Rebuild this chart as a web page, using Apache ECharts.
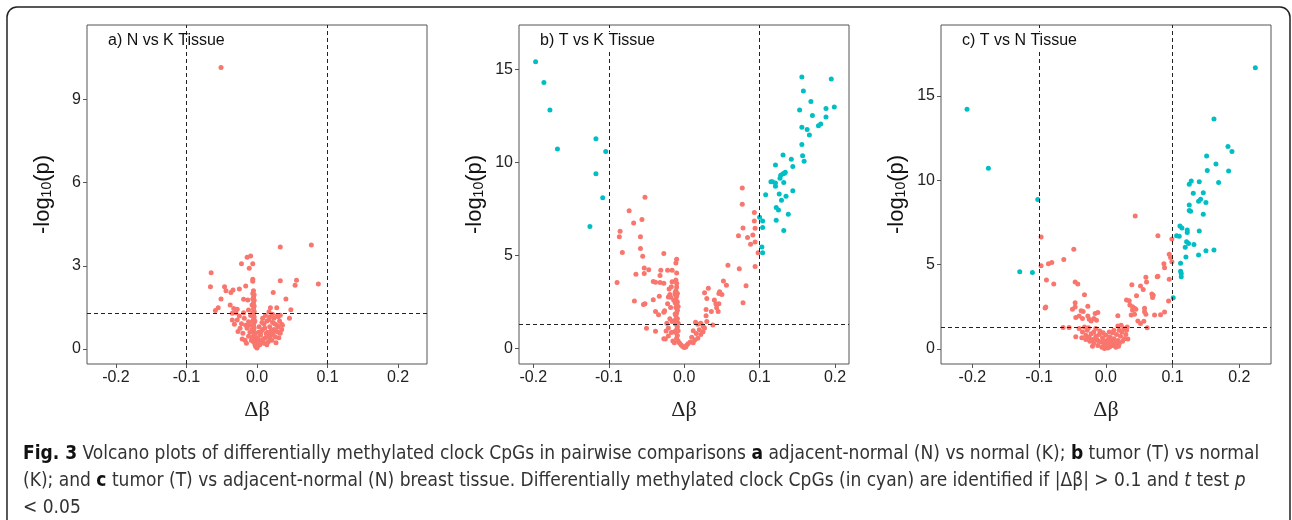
<!DOCTYPE html>
<html lang="en">
<head>
    <meta charset="UTF-8">
    <title>Volcano plots</title>
    <script src="https://cdn.jsdelivr.net/npm/echarts@6.0.0/dist/echarts.min.js"></script>
    <style>
        body { margin: 0; background: #fff; }
    </style>
</head>
<body>
    <div id="main" style="width: 1292px;height:520px;"></div>
    <script type="text/javascript">
        // panel labels and axis ticks
        const panelTitles = ['a) N vs K Tissue', 'b) T vs K Tissue', 'c) T vs N Tissue'];
        const xTicks = [-0.2, -0.1, 0, 0.1, 0.2];
        const aYTicks = [0, 3, 6, 9];
        const bYTicks = [0, 5, 10, 15];
        const cYTicks = [0, 5, 10, 15];
        const deltaCut = 0.1;
        const pCut = 1.3;

        // panel a: N vs K  [delta beta, -log10 p]
        const aRed = [
            [-0.051,10.16],
            [0.033,3.68],[0.077,3.75],[0.087,2.34],[0.056,2.48],[0.054,2.30],[0.033,2.46],[0.023,2.03],[0.041,1.80],[0.048,1.41],[0.046,1.10],
            [-0.065,2.75],[-0.066,2.24],[-0.051,1.80],[-0.055,1.48],[-0.059,1.38],[-0.046,2.24],[-0.044,2.10],[-0.034,2.12],[-0.037,2.03],[-0.025,2.16],[-0.016,2.27],
            [-0.022,3.07],[-0.014,3.31],[-0.009,3.35],[-0.011,2.91],[-0.006,3.07],[-0.006,2.51],[-0.006,2.44],
            [-0.038,1.58],[-0.033,1.46],[-0.028,1.43],[-0.019,1.79],[-0.013,1.76],[-0.012,1.40],[-0.006,2.0],[-0.007,1.58],
            [0.019,1.48],[0.028,1.48],[0.017,1.34],[0.033,1.21],[0.030,1.16],[0.035,0.89],
            [-0.035,1.28],[-0.035,1.04],[-0.028,1.04],[-0.032,0.89],[-0.024,0.74],[-0.027,0.62],[-0.020,0.56],[-0.021,0.35],[-0.017,0.31],[-0.012,0.98],[-0.014,0.74],
            [-0.030,1.30],[-0.025,1.18],[-0.018,1.10],[-0.016,0.85],[-0.022,0.90],[-0.010,0.60],[-0.012,0.45],[-0.008,0.30],[-0.015,0.20],[-0.019,1.30],[-0.009,1.20],[-0.010,0.85],
            [-0.005,2.10],[-0.004,1.95],[-0.005,1.85],[-0.004,1.75],[-0.005,1.65],[-0.004,1.55],[-0.005,1.45],[-0.004,1.35],[-0.005,1.25],[-0.004,1.15],[-0.005,1.05],
            [-0.004,0.95],[-0.005,0.85],[-0.004,0.75],[-0.005,0.65],[-0.004,0.55],[-0.005,0.45],[-0.004,0.35],[-0.005,0.25],[-0.003,0.15],[-0.002,0.08],[0.000,0.03],
            [-0.007,0.70],[-0.007,0.40],[-0.006,1.00],[-0.003,0.50],[-0.006,1.80],[-0.006,1.30],[-0.003,1.00],[-0.002,0.30],
            [0.005,0.50],[0.008,0.70],[0.010,0.90],[0.012,0.40],[0.015,0.60],[0.014,1.00],[0.018,0.80],[0.020,0.50],[0.022,0.95],[0.024,0.70],[0.026,0.43],[0.028,0.85],
            [0.030,0.60],[0.033,0.56],[0.035,0.70],[0.032,1.00],[0.021,0.31],[0.018,1.15],[0.012,1.20],[0.008,1.10],[0.006,0.30],[0.010,0.20],[0.004,0.15],[0.016,0.25],
            [0.020,0.65],[0.024,1.10],[0.027,0.22],[0.013,0.55],[0.029,1.20],[0.036,0.85],[0.003,0.80],[0.002,0.60],[0.001,0.40],[0.001,0.10],[-0.002,0.20],[0.003,0.25],
            [0.007,0.95],[0.011,0.75],[0.016,0.45],[0.019,0.35],[0.023,0.55],[0.025,0.90],[0.030,0.80],[0.009,0.35],[0.014,0.15],[0.006,0.62],[0.017,1.05],[0.022,1.25],
            [0.027,0.65],[0.031,0.40]
        ];
        const aCyan = [];

        // panel b: T vs K
        const bRed = [
            [0.077,8.63],[0.077,7.75],[0.072,6.06],[0.078,6.48],[0.093,7.31],[0.093,6.85],[0.094,6.47],[0.091,6.10],[0.084,5.97],[0.088,5.60],[0.094,5.73],[0.098,5.15],
            [0.094,4.41],[0.073,4.29],[0.058,4.47],[0.082,3.37],[0.078,2.45],[0.052,3.63],[0.056,3.40],[0.032,3.23],[0.027,3.00],[0.046,2.95],[0.050,2.90],[0.047,3.05],
            [0.030,2.68],[0.040,2.60],[0.042,2.40],[0.046,2.40],[0.043,2.18],[0.045,1.98],[0.036,1.98],[0.029,2.09],[0.029,1.76],[0.030,1.45],[0.038,1.26],[0.015,1.40],
            [0.018,1.30],[0.022,1.35],[0.025,1.20],[0.027,1.10],[0.020,1.00],[0.012,0.95],[0.016,0.80],[0.022,0.75],[0.010,0.60],[0.014,0.45],[0.018,0.55],[0.008,0.35],
            [0.005,0.25],[0.012,0.30],[0.003,0.15],[0.025,0.90],
            [-0.052,8.13],[-0.073,7.40],[-0.085,6.30],[-0.086,6.01],[-0.082,5.16],[-0.089,3.55],[-0.067,6.74],[-0.056,6.94],[-0.058,6.01],[-0.058,5.38],[-0.055,4.96],
            [-0.053,4.32],[-0.047,4.23],[-0.064,3.99],[-0.053,4.03],[-0.066,2.55],[-0.054,2.36],[-0.052,2.40],[-0.041,3.60],[-0.038,3.56],[-0.027,5.10],[-0.031,4.20],
            [-0.032,3.92],[-0.022,4.21],[-0.016,4.20],[-0.010,4.80],[-0.011,4.60],[-0.010,4.05],[-0.011,3.68],[-0.016,3.59],[-0.017,3.32],[-0.027,3.50],[-0.032,3.54],
            [-0.041,2.62],[-0.033,2.80],[-0.021,2.77],[-0.038,1.98],[-0.034,1.81],[-0.026,2.03],[-0.050,1.08],[-0.038,0.92],[-0.027,0.52],[-0.027,1.94],[-0.024,0.93],
            [-0.021,0.66],[-0.025,0.51],[-0.020,3.20],[-0.019,2.90],[-0.018,2.75],[-0.022,2.40],[-0.019,1.60],[-0.023,1.35],[-0.021,1.10],[-0.017,0.85],[-0.016,1.45],
            [-0.018,2.20],[-0.015,0.40],[-0.013,0.30],
            [-0.010,3.50],[-0.010,3.30],[-0.011,3.10],[-0.009,2.95],[-0.010,2.80],[-0.011,2.65],[-0.009,2.50],[-0.010,2.35],[-0.011,2.20],[-0.009,2.05],[-0.010,1.90],
            [-0.011,1.75],[-0.009,1.60],[-0.010,1.45],[-0.011,1.30],[-0.009,1.15],[-0.010,1.00],[-0.011,0.85],[-0.009,0.70],[-0.010,0.55],[-0.008,0.40],[-0.006,0.28],
            [-0.004,0.18],[-0.002,0.10],[0.000,0.05],[0.002,0.08],[-0.012,2.90],[-0.012,2.45],[-0.012,1.85],[-0.008,2.25],[-0.008,1.35],[-0.008,0.95],[-0.013,1.50],
            [-0.012,3.00],[-0.013,0.90],[-0.014,2.60]
        ];
        const bCyan = [
            [-0.197,15.42],[-0.186,14.30],[-0.178,12.82],[-0.168,10.73],[-0.117,11.28],[-0.104,10.59],[-0.117,9.40],[-0.108,8.11],[-0.125,6.56],
            [0.156,14.60],[0.195,14.49],[0.158,13.85],[0.168,13.28],[0.153,12.82],[0.199,12.99],[0.188,12.91],[0.170,12.53],[0.188,12.45],[0.156,11.90],[0.163,11.78],
            [0.181,12.07],[0.178,11.98],[0.166,11.48],[0.156,10.97],[0.157,10.37],[0.159,10.07],[0.131,10.40],[0.142,10.18],[0.144,9.78],[0.121,9.87],[0.128,9.32],
            [0.131,9.40],[0.133,9.43],[0.134,9.48],[0.127,9.16],[0.115,8.97],[0.117,8.97],[0.121,8.90],[0.121,8.72],[0.132,8.92],[0.144,8.48],[0.108,8.26],[0.126,8.31],
            [0.135,8.19],[0.129,7.97],[0.122,7.58],[0.125,7.44],[0.138,7.22],[0.122,6.90],[0.132,6.34],[0.100,7.05],[0.104,6.85],[0.104,6.50],[0.103,5.46],[0.104,5.15]
        ];

        // panel c: T vs N
        const cRed = [
            [0.044,7.88],[0.078,6.71],[0.099,6.51],[-0.097,6.63],[-0.048,5.90],[-0.063,5.30],[-0.097,4.93],[-0.086,5.05],[-0.081,5.12],[-0.089,4.08],[-0.078,3.84],
            [-0.046,3.96],[-0.042,3.84],[-0.032,3.20],[-0.091,2.42],[-0.090,2.48],[-0.046,2.73],[-0.050,2.34],[-0.046,2.48],[-0.037,2.25],[-0.034,2.22],[-0.027,2.53],
            [-0.045,1.85],[-0.040,1.95],[-0.035,1.80],[-0.027,1.94],[-0.016,2.10],[-0.012,2.15],[-0.018,1.80],[-0.014,1.70],[-0.022,1.65],[-0.025,1.75],[-0.064,1.27],
            [-0.055,1.27],[-0.045,0.71],
            [0.095,5.60],[0.087,5.05],[0.088,4.80],[0.097,5.42],[0.099,5.17],[0.077,4.27],[0.095,4.12],[0.060,4.24],[0.061,3.96],[0.039,3.80],[0.052,3.72],[0.078,4.31],
            [0.056,3.52],[0.046,3.15],[0.069,3.25],[0.071,3.18],[0.070,3.05],[0.031,2.90],[0.035,2.85],[0.094,2.83],[0.036,2.60],[0.040,2.50],[0.043,2.40],[0.045,2.35],
            [0.058,2.40],[0.058,2.20],[0.040,2.30],[0.043,2.05],[0.038,2.00],[0.060,2.05],[0.073,2.00],[0.082,2.02],[0.088,2.18],[0.018,1.96],[0.057,1.64],[0.062,1.25],
            [0.023,1.40],[0.027,1.20],[0.031,1.10],[0.032,1.30],[0.018,1.35],[0.020,1.10],[0.033,0.58],[0.030,0.85],[0.052,1.50],[0.048,1.65],
            [-0.040,1.20],[-0.035,1.00],[-0.030,0.80],[-0.032,1.30],[-0.028,1.10],[-0.025,0.70],[-0.022,0.90],[-0.020,0.55],[-0.018,1.00],[-0.015,0.75],[-0.012,0.50],
            [-0.010,0.85],[-0.008,0.40],[-0.005,0.65],[-0.003,0.30],[0.000,0.15],[0.002,0.50],[0.004,0.25],[0.006,0.70],[0.008,0.40],[0.010,0.20],[0.012,0.60],
            [0.014,0.35],[0.016,0.85],[0.018,0.50],[0.020,0.30],[0.022,0.75],[0.025,0.45],[0.028,0.60],[-0.006,0.10],[0.003,0.05],[-0.002,0.02],[0.006,0.12],
            [-0.012,0.20],[-0.018,0.35],[-0.024,0.45],[-0.030,0.55],[0.015,0.10],[-0.009,1.05],[0.010,0.95],[0.000,0.80],[-0.004,0.95],[0.005,1.00],[-0.015,1.20],
            [0.012,1.10],[-0.026,1.25],[0.024,1.00],[-0.036,0.65],[-0.002,0.45],[0.008,0.60],[-0.014,0.60],[0.019,0.15],[-0.020,0.15],[0.001,0.35],[0.004,0.55]
        ];
        const cCyan = [
            [-0.208,14.21],[-0.176,10.71],[-0.102,8.85],[-0.129,4.57],[-0.110,4.53],
            [0.224,16.66],[0.162,13.62],[0.183,11.99],[0.189,11.70],[0.151,11.44],[0.165,10.96],[0.152,10.57],[0.184,10.55],[0.169,9.86],[0.128,9.95],[0.125,9.76],
            [0.140,9.91],[0.131,9.22],[0.146,9.26],[0.142,8.87],[0.139,8.75],[0.150,8.67],[0.125,8.53],[0.125,8.20],[0.127,8.15],[0.146,7.98],[0.111,7.28],[0.114,7.16],
            [0.122,7.05],[0.122,6.90],[0.140,6.99],[0.106,6.70],[0.110,6.68],[0.121,6.35],[0.124,6.25],[0.132,6.19],[0.119,6.02],[0.150,5.82],[0.162,5.86],[0.139,5.56],
            [0.120,5.44],[0.112,5.07],[0.112,4.60],[0.113,4.47],[0.113,4.27],[0.101,3.03]
        ];

        const RED = '#F8766D';
        const CYAN = '#00BFC4';
        const FONT = '"Liberation Sans", Arial, sans-serif';

        // layout per panel
        const panels = [
            { grid: { left: 87, top: 25, width: 340, height: 339 }, x: [-0.241, 0.241], y: [-0.55, 11.7], yTicks: aYTicks, red: aRed, cyan: aCyan, titleBg: false },
            { grid: { left: 519, top: 25, width: 330, height: 339 }, x: [-0.219, 0.2185], y: [-0.84, 17.4], yTicks: bYTicks, red: bRed, cyan: bCyan, titleBg: true },
            { grid: { left: 941, top: 25, width: 330, height: 339 }, x: [-0.247, 0.2475], y: [-0.9, 19.2], yTicks: cYTicks, red: cRed, cyan: cCyan, titleBg: true }
        ];

        let myChart = echarts.init(document.getElementById('main'));

        const grids = [], xAxes = [], yAxes = [], series = [], graphics = [];
        panels.forEach((p, i) => {
            grids.push(Object.assign({ show: true, borderColor: '#555', borderWidth: 1, backgroundColor: 'transparent' }, p.grid));
            xAxes.push({
                type: 'value', gridIndex: i, min: p.x[0], max: p.x[1],
                axisLine: { show: false, onZero: false },
                axisTick: { show: true, length: 4, lineStyle: { color: '#555' }, customValues: xTicks },
                axisLabel: { color: '#222', fontSize: 16, fontFamily: FONT, margin: 6, customValues: xTicks, formatter: v => v.toFixed(1) },
                splitLine: { show: false },
                name: 'Δβ', nameLocation: 'middle', nameGap: 35,
                nameTextStyle: { fontSize: 22, fontFamily: '"Liberation Serif", "Times New Roman", serif', color: '#222' }
            });
            yAxes.push({
                type: 'value', gridIndex: i, min: p.y[0], max: p.y[1],
                axisLine: { show: false, onZero: false },
                axisTick: { show: true, length: 4, lineStyle: { color: '#555' }, customValues: p.yTicks },
                axisLabel: { color: '#222', fontSize: 16, fontFamily: FONT, margin: 6, customValues: p.yTicks },
                splitLine: { show: false },
                name: '-log{s|10}(p)', nameLocation: 'middle', nameGap: 33, nameRotate: 90,
                nameTextStyle: {
                    fontSize: 22, fontFamily: FONT, color: '#111',
                    rich: { s: { fontSize: 14, fontFamily: FONT, color: '#111', verticalAlign: 'bottom', lineHeight: 22 } }
                }
            });
            series.push({
                type: 'scatter', xAxisIndex: i, yAxisIndex: i, data: p.red,
                symbolSize: 5, itemStyle: { color: RED, opacity: 1 }, silent: true,
                markLine: {
                    silent: true, symbol: 'none', animation: false,
                    label: { show: false },
                    lineStyle: { type: [4, 3], color: '#222', width: 1 },
                    data: [{ xAxis: -deltaCut }, { xAxis: deltaCut }, { yAxis: pCut }]
                }
            });
            series.push({
                type: 'scatter', xAxisIndex: i, yAxisIndex: i, data: p.cyan,
                symbolSize: 5, itemStyle: { color: CYAN, opacity: 1 }, silent: true
            });
            graphics.push({
                type: 'text', left: p.grid.left + 20, top: 32, z: 10,
                style: {
                    text: panelTitles[i], font: '16px ' + FONT, fill: '#111',
                    backgroundColor: p.titleBg ? '#fff' : 'transparent', padding: [1, 1]
                }
            });
        });

        // caption
        const captionLines = [
            '{b|Fig. 3} Volcano plots of differentially methylated clock CpGs in pairwise comparisons {b|a} adjacent-normal (N) vs normal (K); {b|b} tumor (T) vs normal',
            '(K); and {b|c} tumor (T) vs adjacent-normal (N) breast tissue. Differentially methylated clock CpGs (in cyan) are identified if |Δβ| > 0.1 and {i|t} test {i|p}',
            '< 0.05'
        ];
        const CAP_FONT = '"Liberation Sans Narrow", "DejaVu Sans Condensed", "Open Sans", sans-serif';
        captionLines.forEach((line, k) => {
            graphics.push({
                type: 'text', left: 23, top: 445 + k * 27,
                style: {
                    text: line, fontSize: 19, fontFamily: CAP_FONT, fill: '#333',
                    rich: {
                        b: { fontSize: 19, fontFamily: CAP_FONT, fontWeight: 'bold', fill: '#111' },
                        i: { fontSize: 19, fontFamily: CAP_FONT, fontStyle: 'italic', fill: '#333' }
                    }
                }
            });
        });

        // outer frame
        graphics.push({
            type: 'rect', z: -1,
            shape: { x: 7, y: 7, width: 1283, height: 540, r: 10 },
            style: { fill: 'none', stroke: '#222', lineWidth: 1.5 }
        });

        let options = {
            animation: false,
            grid: grids,
            xAxis: xAxes,
            yAxis: yAxes,
            series: series,
            graphic: graphics
        };
        myChart.setOption(options);
    </script>
</body>
</html>
